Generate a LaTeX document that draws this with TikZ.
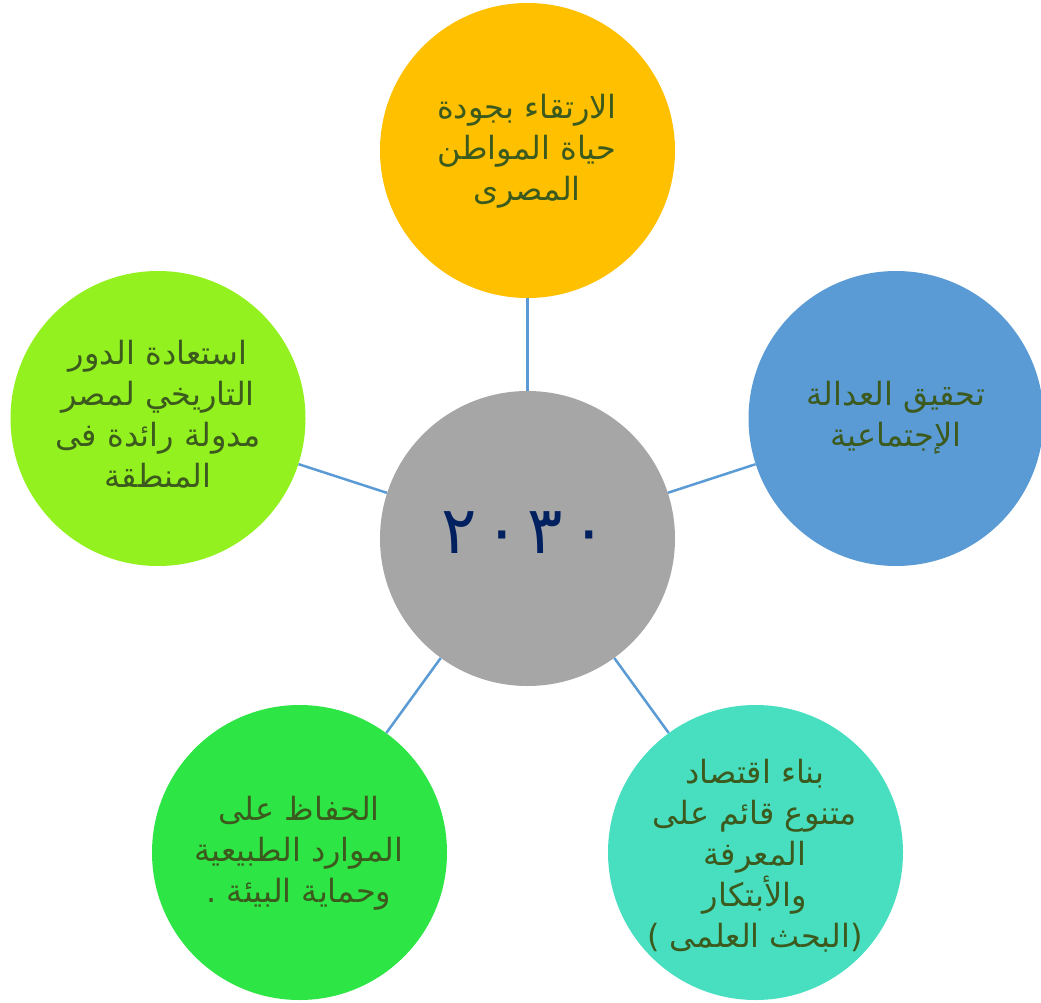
\documentclass[tikz,border=0pt]{standalone}
\usepackage{fontspec}
\newfontfamily\arabicfont[Script=Arabic]{DejaVu Sans}
\newfontfamily\latinfont{DejaVu Sans}
\TeXXeTstate=1
\newcommand{\ar}[1]{\beginR #1\endR}
\definecolor{cTop}{HTML}{FFC000}
\definecolor{cRight}{HTML}{5B9BD5}
\definecolor{cLeft}{HTML}{92F11E}
\definecolor{cBL}{HTML}{2DE545}
\definecolor{cBR}{HTML}{48DFC0}
\definecolor{cMid}{HTML}{A6A6A6}
\definecolor{txtG}{HTML}{3C5A1E}
\definecolor{txtN}{HTML}{002060}
\definecolor{lineB}{HTML}{5B9BD5}
\tikzset{
  circ/.style={circle, minimum size=295pt, inner sep=0pt, draw=none},
  lbl/.style={align=center, text=txtG, font=\arabicfont\fontsize{32}{41}\selectfont},
  conn/.style={draw=lineB, line width=2.5pt}
}
\begin{document}
\begin{tikzpicture}[x=1pt,y=-1pt]
\useasboundingbox[fill=white] (0,0) rectangle (1041,1003);
\node[circ, fill=cTop] (top) at (527.5,150.5) {};
\node[circ, fill=cRight] (right) at (896,418.5) {};
\node[circ, fill=cLeft] (left) at (158,418.5) {};
\node[circ, fill=cBL] (bl) at (299.5,852.5) {};
\node[circ, fill=cBR] (br) at (755.5,852.5) {};
\node[circ, fill=cMid] (mid) at (527.5,538.5) {};
\draw[conn] (mid) -- (top);
\draw[conn] (mid) -- (right);
\draw[conn] (mid) -- (left);
\draw[conn] (mid) -- (bl);
\draw[conn] (mid) -- (br);
\node[lbl] (ttop) at (527,151) {\ar{الارتقاء بجودة}\\\ar{حياة المواطن}\\\ar{المصرى}};
\node[lbl] (tright) at (896,418) {\ar{تحقيق العدالة}\\\ar{الإجتماعية}};
\node[lbl] (tleft) at (158,414) {\ar{استعادة الدور}\\\ar{التاريخي لمصر}\\\ar{مدولة رائدة فى}\\\ar{المنطقة}};
\node[lbl] (tbl) at (299,853) {\ar{الحفاظ على}\\\ar{الموارد الطبيعية}\\\ar{وحماية البيئة .}};
\node[lbl] (tbr) at (755,856) {\ar{بناء اقتصاد}\\\ar{متنوع قائم على}\\\ar{المعرفة}\\\ar{والأبتكار}\\{\latinfont(}\ \ar{البحث العلمى}{\latinfont)}};
\node[text=txtN, font=\arabicfont\fontsize{66}{70}\selectfont] (year) at (524,533) {٢\hspace{8pt}٠\hspace{8pt}٣\hspace{8pt}٠};
\end{tikzpicture}
\end{document}
